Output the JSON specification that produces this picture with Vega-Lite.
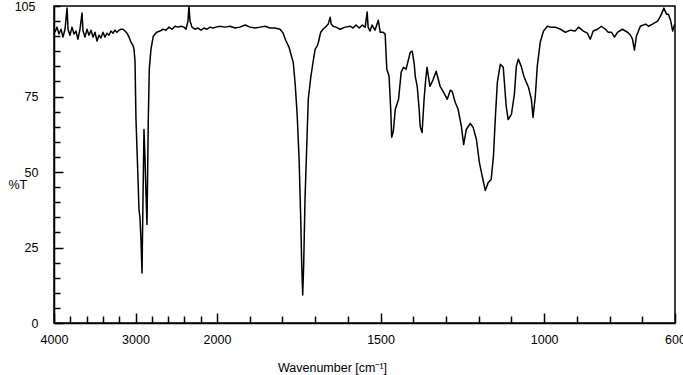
{
  "$schema": "https://vega.github.io/schema/vega-lite/v6.json",
  "width": 621,
  "height": 317,
  "autosize": "none",
  "padding": {"left": 54, "top": 6, "right": 8, "bottom": 52},
  "background": "white",
  "config": {
    "view": {"stroke": "black", "strokeWidth": 1.5},
    "font": "Liberation Sans"
  },
  "data": {
    "values": [
      {"wn": 3988, "t": 96.3}, {"wn": 3963, "t": 98.0}, {"wn": 3939, "t": 95.7}, {"wn": 3914, "t": 97.3},
      {"wn": 3890, "t": 94.7}, {"wn": 3865, "t": 97.3}, {"wn": 3853, "t": 100.7}, {"wn": 3840, "t": 104.3},
      {"wn": 3828, "t": 97.3}, {"wn": 3804, "t": 95.3}, {"wn": 3779, "t": 98.0}, {"wn": 3755, "t": 95.7},
      {"wn": 3730, "t": 96.7}, {"wn": 3706, "t": 94.0}, {"wn": 3681, "t": 97.3}, {"wn": 3656, "t": 102.7},
      {"wn": 3644, "t": 96.7}, {"wn": 3620, "t": 94.7}, {"wn": 3595, "t": 97.3}, {"wn": 3571, "t": 95.3},
      {"wn": 3546, "t": 97.0}, {"wn": 3521, "t": 94.7}, {"wn": 3497, "t": 96.3}, {"wn": 3472, "t": 93.4},
      {"wn": 3448, "t": 95.3}, {"wn": 3423, "t": 94.4}, {"wn": 3399, "t": 96.3}, {"wn": 3374, "t": 94.7},
      {"wn": 3350, "t": 96.0}, {"wn": 3325, "t": 95.3}, {"wn": 3301, "t": 96.7}, {"wn": 3276, "t": 96.0},
      {"wn": 3252, "t": 97.0}, {"wn": 3227, "t": 96.3}, {"wn": 3202, "t": 97.0}, {"wn": 3178, "t": 97.3},
      {"wn": 3153, "t": 97.3}, {"wn": 3129, "t": 96.7}, {"wn": 3104, "t": 96.0}, {"wn": 3080, "t": 94.7},
      {"wn": 3061, "t": 93.4}, {"wn": 3043, "t": 92.4}, {"wn": 3031, "t": 92.0}, {"wn": 3018, "t": 90.7},
      {"wn": 3006, "t": 86.7}, {"wn": 2994, "t": 67.4}, {"wn": 2973, "t": 50.8}, {"wn": 2957, "t": 37.5},
      {"wn": 2945, "t": 34.9}, {"wn": 2933, "t": 27.6}, {"wn": 2920, "t": 16.6}, {"wn": 2908, "t": 40.9},
      {"wn": 2896, "t": 64.1}, {"wn": 2883, "t": 54.2}, {"wn": 2871, "t": 42.5}, {"wn": 2859, "t": 32.6},
      {"wn": 2843, "t": 67.4}, {"wn": 2831, "t": 84.1}, {"wn": 2810, "t": 90.7}, {"wn": 2782, "t": 95.0},
      {"wn": 2740, "t": 96.3}, {"wn": 2699, "t": 96.7}, {"wn": 2663, "t": 97.3}, {"wn": 2626, "t": 97.0},
      {"wn": 2589, "t": 98.0}, {"wn": 2552, "t": 97.3}, {"wn": 2515, "t": 98.3}, {"wn": 2479, "t": 98.0},
      {"wn": 2442, "t": 98.3}, {"wn": 2405, "t": 98.0}, {"wn": 2380, "t": 97.3}, {"wn": 2356, "t": 100.0},
      {"wn": 2344, "t": 105.0}, {"wn": 2331, "t": 100.0}, {"wn": 2307, "t": 98.0}, {"wn": 2270, "t": 97.3},
      {"wn": 2233, "t": 97.7}, {"wn": 2196, "t": 97.0}, {"wn": 2160, "t": 97.7}, {"wn": 2123, "t": 97.3},
      {"wn": 2086, "t": 98.0}, {"wn": 2049, "t": 97.7}, {"wn": 2012, "t": 98.0}, {"wn": 1991, "t": 98.3},
      {"wn": 1976, "t": 98.0}, {"wn": 1960, "t": 98.3}, {"wn": 1945, "t": 97.7}, {"wn": 1930, "t": 98.0},
      {"wn": 1914, "t": 98.7}, {"wn": 1899, "t": 98.0}, {"wn": 1884, "t": 97.7}, {"wn": 1868, "t": 98.0},
      {"wn": 1853, "t": 98.3}, {"wn": 1838, "t": 97.7}, {"wn": 1823, "t": 97.7}, {"wn": 1807, "t": 97.3},
      {"wn": 1798, "t": 96.0}, {"wn": 1789, "t": 93.4}, {"wn": 1780, "t": 91.4}, {"wn": 1774, "t": 89.0},
      {"wn": 1767, "t": 86.4}, {"wn": 1761, "t": 79.1}, {"wn": 1755, "t": 69.1}, {"wn": 1749, "t": 54.2},
      {"wn": 1744, "t": 34.2}, {"wn": 1741, "t": 19.3}, {"wn": 1738, "t": 9.3}, {"wn": 1735, "t": 19.3},
      {"wn": 1731, "t": 40.9}, {"wn": 1726, "t": 57.5}, {"wn": 1721, "t": 74.1}, {"wn": 1713, "t": 81.7},
      {"wn": 1706, "t": 86.7}, {"wn": 1700, "t": 90.7}, {"wn": 1694, "t": 91.7}, {"wn": 1690, "t": 93.0},
      {"wn": 1683, "t": 96.3}, {"wn": 1676, "t": 97.3}, {"wn": 1666, "t": 98.3}, {"wn": 1660, "t": 99.0},
      {"wn": 1654, "t": 101.3}, {"wn": 1651, "t": 99.0}, {"wn": 1645, "t": 98.3}, {"wn": 1636, "t": 98.0},
      {"wn": 1624, "t": 97.3}, {"wn": 1608, "t": 98.0}, {"wn": 1593, "t": 98.3}, {"wn": 1584, "t": 97.7},
      {"wn": 1575, "t": 98.7}, {"wn": 1565, "t": 97.7}, {"wn": 1556, "t": 98.7}, {"wn": 1547, "t": 98.0},
      {"wn": 1541, "t": 103.0}, {"wn": 1538, "t": 98.0}, {"wn": 1532, "t": 96.7}, {"wn": 1526, "t": 98.7},
      {"wn": 1517, "t": 97.0}, {"wn": 1507, "t": 100.3}, {"wn": 1501, "t": 96.3}, {"wn": 1492, "t": 96.3},
      {"wn": 1486, "t": 95.7}, {"wn": 1481, "t": 84.1}, {"wn": 1474, "t": 81.7}, {"wn": 1469, "t": 70.8},
      {"wn": 1466, "t": 61.5}, {"wn": 1461, "t": 63.5}, {"wn": 1455, "t": 70.8}, {"wn": 1445, "t": 74.1},
      {"wn": 1437, "t": 83.1}, {"wn": 1430, "t": 84.7}, {"wn": 1422, "t": 84.1}, {"wn": 1416, "t": 86.7},
      {"wn": 1409, "t": 89.7}, {"wn": 1403, "t": 90.0}, {"wn": 1397, "t": 85.7}, {"wn": 1394, "t": 81.7},
      {"wn": 1388, "t": 78.4}, {"wn": 1382, "t": 70.8}, {"wn": 1379, "t": 65.1}, {"wn": 1373, "t": 63.1},
      {"wn": 1367, "t": 74.1}, {"wn": 1362, "t": 80.7}, {"wn": 1358, "t": 84.7}, {"wn": 1349, "t": 78.4},
      {"wn": 1339, "t": 80.7}, {"wn": 1330, "t": 83.4}, {"wn": 1318, "t": 78.4}, {"wn": 1309, "t": 76.7},
      {"wn": 1296, "t": 74.1}, {"wn": 1287, "t": 77.1}, {"wn": 1281, "t": 76.7}, {"wn": 1272, "t": 73.1},
      {"wn": 1263, "t": 70.8}, {"wn": 1253, "t": 65.1}, {"wn": 1246, "t": 59.1}, {"wn": 1238, "t": 64.1},
      {"wn": 1226, "t": 66.1}, {"wn": 1217, "t": 64.8}, {"wn": 1207, "t": 60.8}, {"wn": 1198, "t": 53.2},
      {"wn": 1189, "t": 48.5}, {"wn": 1180, "t": 43.9}, {"wn": 1171, "t": 46.5}, {"wn": 1162, "t": 47.5},
      {"wn": 1155, "t": 55.1}, {"wn": 1149, "t": 68.4}, {"wn": 1143, "t": 79.7}, {"wn": 1134, "t": 85.7},
      {"wn": 1125, "t": 84.7}, {"wn": 1116, "t": 71.8}, {"wn": 1110, "t": 67.4}, {"wn": 1100, "t": 69.1},
      {"wn": 1091, "t": 75.7}, {"wn": 1085, "t": 85.0}, {"wn": 1079, "t": 87.4}, {"wn": 1070, "t": 85.0},
      {"wn": 1061, "t": 81.4}, {"wn": 1048, "t": 78.1}, {"wn": 1039, "t": 74.1}, {"wn": 1034, "t": 68.1},
      {"wn": 1027, "t": 75.1}, {"wn": 1021, "t": 85.0}, {"wn": 1012, "t": 93.0}, {"wn": 1002, "t": 96.7},
      {"wn": 990, "t": 98.3}, {"wn": 981, "t": 98.0}, {"wn": 966, "t": 98.0}, {"wn": 950, "t": 97.3},
      {"wn": 935, "t": 96.3}, {"wn": 920, "t": 97.0}, {"wn": 905, "t": 96.7}, {"wn": 895, "t": 98.0},
      {"wn": 880, "t": 96.7}, {"wn": 868, "t": 96.0}, {"wn": 859, "t": 94.0}, {"wn": 850, "t": 96.7},
      {"wn": 837, "t": 97.3}, {"wn": 825, "t": 98.3}, {"wn": 813, "t": 97.3}, {"wn": 804, "t": 96.3},
      {"wn": 794, "t": 96.3}, {"wn": 785, "t": 94.7}, {"wn": 776, "t": 96.3}, {"wn": 761, "t": 97.3},
      {"wn": 745, "t": 96.3}, {"wn": 736, "t": 95.3}, {"wn": 730, "t": 94.0}, {"wn": 724, "t": 90.4},
      {"wn": 718, "t": 95.0}, {"wn": 706, "t": 98.3}, {"wn": 690, "t": 99.0}, {"wn": 681, "t": 98.3},
      {"wn": 669, "t": 99.0}, {"wn": 653, "t": 100.0}, {"wn": 644, "t": 101.7}, {"wn": 634, "t": 104.3},
      {"wn": 626, "t": 102.3}, {"wn": 620, "t": 102.3}, {"wn": 613, "t": 100.0}, {"wn": 607, "t": 96.7},
      {"wn": 601, "t": 99.0}
    ]
  },
  "mark": {"type": "line", "color": "black", "strokeWidth": 1.5, "strokeJoin": "round", "clip": true},
  "encoding": {
    "x": {
      "field": "wn",
      "type": "quantitative",
      "scale": {"domain": [4000, 2000, 600], "range": [0, 163, 621], "nice": false, "zero": false},
      "axis": {
        "values": [4000, 3800, 3600, 3400, 3200, 3000, 2800, 2600, 2400, 2200, 2000, 1900, 1800, 1700, 1600, 1500, 1400, 1300, 1200, 1100, 1000, 900, 800, 700, 600],
        "format": "d",
        "labelExpr": "indexof([4000, 3000, 2000, 1500, 1000, 600], datum.value) >= 0 ? datum.label : ''",
        "labelFlush": false,
        "labelOverlap": false,
        "labelFont": "Liberation Sans",
        "labelFontSize": 12.5,
        "labelColor": "black",
        "labelPadding": 20,
        "labelDx": -2,
        "grid": false,
        "domainColor": "black",
        "domainWidth": 1.5,
        "tickColor": "black",
        "tickWidth": 1.5,
        "tickSize": {"condition": {"test": "indexof([4000, 3000, 2000, 1500, 1000, 600], datum.value) >= 0", "value": -10}, "value": -7},
        "title": "Wavenumber [cm⁻¹]",
        "titleFont": "Liberation Sans",
        "titleFontSize": 12.5,
        "titleFontWeight": "normal",
        "titleColor": "black",
        "titleAlign": "center",
        "titleBaseline": "middle",
        "titleX": 278,
        "titleY": 44
      }
    },
    "y": {
      "field": "t",
      "type": "quantitative",
      "scale": {"domain": [0, 105], "nice": false, "zero": false},
      "axis": {
        "values": [0, 5, 10, 15, 20, 25, 30, 35, 40, 45, 50, 55, 60, 65, 70, 75, 80, 85, 90, 95, 100, 105],
        "labelExpr": "indexof([0, 25, 50, 75, 105], datum.value) >= 0 ? datum.label : ''",
        "labelFlush": false,
        "labelOverlap": false,
        "labelFont": "Liberation Sans",
        "labelFontSize": 12.5,
        "labelColor": "black",
        "labelPadding": 25,
        "grid": false,
        "domainColor": "black",
        "domainWidth": 1.5,
        "tickColor": "black",
        "tickWidth": 1.5,
        "tickSize": {"condition": {"test": "indexof([0, 25, 50, 75], datum.value) >= 0", "value": -9}, "value": -6},
        "title": "%T",
        "titleFont": "Liberation Sans",
        "titleFontSize": 12.5,
        "titleFontWeight": "normal",
        "titleColor": "black",
        "titleAngle": 0,
        "titleAlign": "left",
        "titleBaseline": "middle",
        "titleX": -46,
        "titleY": 178
      }
    }
  }
}
